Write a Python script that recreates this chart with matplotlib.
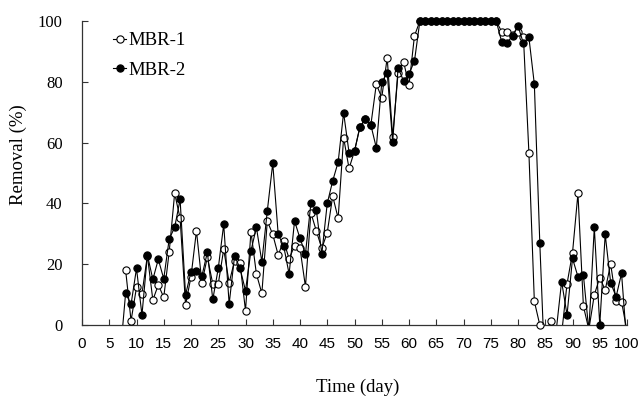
import numpy as np
import matplotlib
matplotlib.use("Agg")
import matplotlib.pyplot as plt
from matplotlib.patches import Rectangle
from matplotlib.lines import Line2D

# ---------------- data ----------------
days_mbr1 = list(range(8, 101))
mbr1 = [18.1, 1.4, 12.4, 10.2, 22.8, 8.2, 13.2, 9.1, 24.1, 43.3,      # 8-17
        35.1, 6.6, 15.9, 31.0, 13.9, 22.3, 13.5, 13.5, 24.9, 13.9,    # 18-27
        21.2, 20.3, 4.7, 30.7, 16.8, 10.4, 34.2, 29.8, 23.0, 27.7,    # 28-37
        21.8, 26.0, 25.2, 12.6, 36.9, 30.9, 25.2, 30.4, 42.4, 35.1,   # 38-47
        61.6, 51.5, 57.2, 65.2, 67.7, 65.8, 79.2, 74.8, 87.9, 61.9,   # 48-57
        83.0, 86.6, 78.9, 95.1,                                       # 58-61
        100, 100, 100, 100, 100, 100, 100, 100, 100, 100,             # 62-71
        100, 100, 100, 100, 100,                                      # 72-76
        96.5, 96.5, 95.5, 96.4, 94.6, 56.7, 7.8, 0.0, -3.0, 1.4,      # 77-86
        -5.0, -3.0, 13.6, 23.7, 43.3, 6.2, -1.5, 9.9, 15.6, 11.5,     # 87-96
        20.1, 7.9, 7.7, -2.0]                                         # 97-100

days_mbr2 = list(range(7, 101))
mbr2 = [-10.0,                                                        # 7
        10.4, 6.8, 18.6, 3.3, 23.0, 15.0, 21.6, 15.2, 28.3, 32.1,     # 8-17
        41.3, 9.9, 17.5, 17.9, 16.1, 23.9, 8.4, 18.6, 33.1, 6.9,      # 18-27
        22.8, 18.6, 11.3, 24.4, 32.1, 20.8, 37.5, 53.2, 29.8, 26.0,   # 28-37
        16.8, 34.2, 28.5, 23.4, 40.0, 37.8, 23.4, 40.0, 47.4, 53.6,   # 38-47
        69.8, 56.7, 57.2, 65.2, 67.7, 65.8, 58.3, 79.8, 83.0, 60.2,   # 48-57
        84.6, 80.3, 82.6, 86.8,                                       # 58-61
        100, 100, 100, 100, 100, 100, 100, 100, 100, 100,             # 62-71
        100, 100, 100, 100, 100,                                      # 72-76
        93.2, 92.9, 95.1, 98.4, 92.6, 94.6, 79.2, 27.0, -18.0, -20.0, # 77-86
        -2.0, 14.3, 3.3, 21.9, 15.9, 16.4, -1.8, 32.1, 0.0, 29.8,     # 87-96
        13.9, 9.3, 17.0, -7.0]                                        # 97-100

series_names = ["MBR-1", "MBR-2"]
x_ticks = list(range(0, 101, 5))
y_ticks = list(range(0, 101, 20))

# ---------------- figure ----------------
SERIF = ["Liberation Serif", "DejaVu Serif"]
SANS = ["Liberation Sans", "DejaVu Sans"]

fig = plt.figure(figsize=(6.41, 4.01), dpi=100)
ax = fig.add_axes([82 / 641, 76 / 401, 545 / 641, 304 / 401])
ax.set_xlim(0, 100)
ax.set_ylim(0, 100)

clip_rect = Rectangle((-2, 0), 104, 120, transform=ax.transData,
                      facecolor="none", edgecolor="none")

styles = [("white", 3), ("black", 4)]
for (d, v), (face, z) in zip([(days_mbr1, mbr1), (days_mbr2, mbr2)], styles):
    d = np.asarray(d, float)
    v = np.asarray(v, float)
    ln, = ax.plot(d, v, color="black", lw=0.8, zorder=z)
    ln.set_clip_path(clip_rect)
    m = v >= 0
    ax.plot(d[m], v[m], ls="none", marker="o", ms=5.2, mfc=face,
            mec="black", mew=0.8, clip_on=False, zorder=z + 0.5)

for side in ("top", "right"):
    ax.spines[side].set_visible(False)
for side in ("left", "bottom"):
    ax.spines[side].set_color("#333333")
    ax.spines[side].set_linewidth(0.9)

ax.set_xticks(x_ticks)
ax.set_xticklabels([str(t) for t in x_ticks], family=SANS, fontsize=11)
ax.set_yticks(y_ticks)
ax.set_yticklabels([str(t) for t in y_ticks], family=SERIF, fontsize=12)
ax.tick_params(axis="x", direction="in", length=4, width=0.8, pad=9, color="#333333")
ax.tick_params(axis="y", direction="in", length=4, width=0.8, pad=14, color="#333333")

ax.set_xlabel("Time (day)", family=SERIF, fontsize=13.5, va="center")
ax.xaxis.set_label_coords(0.506, -0.204)
ax.set_ylabel("Removal (%)", family=SERIF, fontsize=13.5, va="center", ha="center")
ax.yaxis.set_label_coords(-0.117, 0.56)

handles = [Line2D([], [], color="black", lw=0.8, marker="o", ms=5.2, mfc=f,
                  mec="black", mew=0.8) for f, _ in styles]
leg = fig.legend(handles, series_names, loc="upper left",
                 bbox_to_anchor=(113 / 641, 1 - 32 / 401),
                 frameon=False, prop={"family": SERIF, "size": 13.5},
                 handlelength=0.7, handletextpad=0.1, labelspacing=0.66,
                 borderpad=0, borderaxespad=0)

fig.savefig("out.png", dpi=100)
